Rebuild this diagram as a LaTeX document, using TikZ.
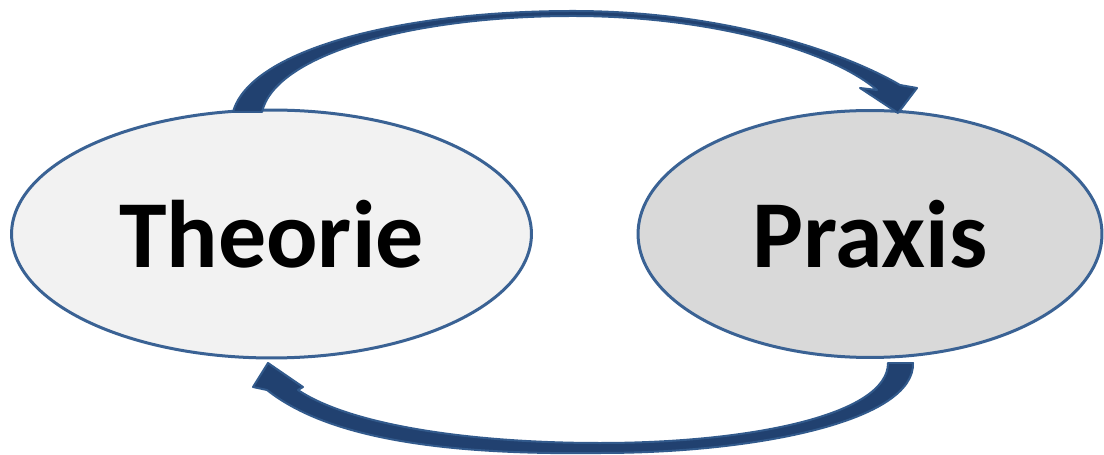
\documentclass[tikz,border=0pt]{standalone}
\usepackage{fontspec}
\setmainfont{Carlito}
\usetikzlibrary{shapes.geometric}
\definecolor{rimblue}{RGB}{58,98,148}
\definecolor{bandblue}{RGB}{33,65,112}
\definecolor{bandedge}{RGB}{50,90,140}
\definecolor{theofill}{RGB}{242,242,242}
\definecolor{praxfill}{RGB}{217,217,217}

\begin{document}
\begin{tikzpicture}[
    x = 0.02cm, y = -0.02cm,
    blob/.style = {ellipse, draw=rimblue, line width=0.06cm, inner sep=0pt,
        font=\fontsize{54.6pt}{60pt}\selectfont\bfseries},
    band/.style = {fill=bandblue, draw=bandedge, line width=0.04cm,
        line join=round}
  ]
  \useasboundingbox (0,0) rectangle (1104,455);

  \node[blob, fill=theofill, minimum width=10.4cm, minimum height=4.96cm]
    (theorie) at (271.5,234) {Theorie};
  \node[blob, fill=praxfill, minimum width=9.28cm, minimum height=4.94cm]
    (praxis) at (870,234) {Praxis};

  % ends of the two bands
  \coordinate (tp-out) at (233,112);
  \coordinate (tp-in) at (262,112);
  \coordinate (tp-tip) at (898,113);
  \coordinate (bt-out) at (913,363);
  \coordinate (bt-in) at (888,363);
  \coordinate (bt-tip) at (268,363);

  % Theorie -> Praxis
  \draw[band] (tp-out) .. controls (250,50) and (400,11) .. (573,11)
    .. controls (720,11) and (840,50) .. (900,85)
    -- (917,88) -- (tp-tip) -- (860,88) -- (877,90)
    .. controls (830,50) and (710,16) .. (573,16)
    .. controls (410,16) and (275,55) .. (tp-in) -- cycle;

  % Praxis -> Theorie
  \draw[band] (bt-out) .. controls (915,420) and (760,453) .. (600,453)
    .. controls (450,455) and (330,440) .. (267,390)
    -- (253,387) -- (bt-tip) -- (303,387) -- (298,390)
    .. controls (350,425) and (470,443) .. (600,443)
    .. controls (750,443) and (888,415) .. (bt-in) -- cycle;
\end{tikzpicture}
\end{document}
